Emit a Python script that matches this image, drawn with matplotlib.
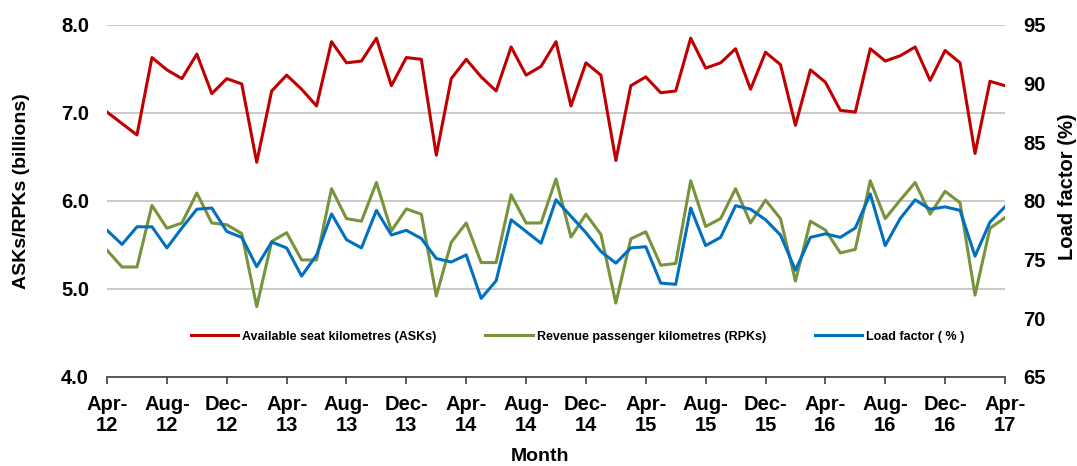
import matplotlib
matplotlib.use("Agg")
import matplotlib.pyplot as plt

plt.rcParams["font.family"] = ["Liberation Sans", "DejaVu Sans"]

# monthly Apr-12 .. Apr-17
tick_labels = ["Apr-\n12", "Aug-\n12", "Dec-\n12", "Apr-\n13", "Aug-\n13", "Dec-\n13",
               "Apr-\n14", "Aug-\n14", "Dec-\n14", "Apr-\n15", "Aug-\n15", "Dec-\n15",
               "Apr-\n16", "Aug-\n16", "Dec-\n16", "Apr-\n17"]

asks = [7.01, 6.88, 6.75, 7.63, 7.49, 7.39, 7.67, 7.22, 7.39, 7.33,
        6.44, 7.25, 7.43, 7.27, 7.08, 7.81, 7.57, 7.59, 7.85, 7.31,
        7.63, 7.61, 6.52, 7.39, 7.61, 7.41, 7.25, 7.75, 7.43, 7.53,
        7.81, 7.08, 7.57, 7.43, 6.46, 7.31, 7.41, 7.23, 7.25, 7.85,
        7.51, 7.57, 7.73, 7.27, 7.69, 7.55, 6.86, 7.49, 7.35, 7.03,
        7.01, 7.73, 7.59, 7.65, 7.75, 7.37, 7.71, 7.57, 6.54, 7.36,
        7.31]

rpks = [5.44, 5.25, 5.25, 5.95, 5.69, 5.75, 6.09, 5.75, 5.73, 5.63,
        4.80, 5.54, 5.64, 5.33, 5.33, 6.14, 5.80, 5.77, 6.21, 5.66,
        5.91, 5.85, 4.92, 5.53, 5.75, 5.30, 5.30, 6.07, 5.75, 5.75,
        6.25, 5.59, 5.85, 5.62, 4.84, 5.57, 5.65, 5.27, 5.29, 6.23,
        5.71, 5.80, 6.14, 5.75, 6.01, 5.80, 5.09, 5.77, 5.67, 5.41,
        5.45, 6.23, 5.80, 6.01, 6.21, 5.85, 6.11, 5.98, 4.93, 5.69,
        5.81]

load_factor = [77.5, 76.3, 77.8, 77.8, 76.0, 77.7, 79.3, 79.4, 77.4, 76.9,
               74.4, 76.5, 76.0, 73.6, 75.4, 78.9, 76.7, 76.0, 79.2, 77.1,
               77.5, 76.8, 75.1, 74.8, 75.4, 71.7, 73.2, 78.4, 77.4, 76.4,
               80.1, 78.7, 77.3, 75.7, 74.7, 76.0, 76.1, 73.0, 72.9, 79.4,
               76.2, 76.9, 79.6, 79.3, 78.4, 77.1, 74.1, 76.9, 77.2, 76.9,
               77.7, 80.6, 76.2, 78.5, 80.1, 79.3, 79.5, 79.2, 75.3, 78.2,
               79.5]

x = list(range(len(asks)))

fig, ax = plt.subplots(figsize=(10.77, 4.66), dpi=100)
fig.subplots_adjust(left=0.0994, right=0.9331, top=0.9464, bottom=0.191)
ax2 = ax.twinx()

l1, = ax.plot(x, asks, color="#C00000", linewidth=2.2, label="Available seat kilometres (ASKs)")
l2, = ax.plot(x, rpks, color="#77933C", linewidth=2.2, label="Revenue passenger kilometres (RPKs)")
l3, = ax2.plot(x, load_factor, color="#0070C0", linewidth=2.2, label="Load factor ( % )")

ax.set_ylim(4.0, 8.0)
ax.set_yticks([4.0, 5.0, 6.0, 7.0, 8.0])
ax.set_yticklabels(["4.0", "5.0", "6.0", "7.0", "8.0"])
ax2.set_ylim(65, 95)
ax2.set_yticks([65, 70, 75, 80, 85, 90, 95])
ax.set_xlim(0, 60)
ax.set_xticks(range(0, 61, 4))
ax.set_xticklabels(tick_labels, fontsize=14.5, fontweight="bold", linespacing=1.15)

ax.grid(axis="y", color="#C0C0C0", linewidth=1.2)
ax.set_axisbelow(True)
for a in (ax, ax2):
    for s in ("top", "left", "right"):
        a.spines[s].set_visible(False)
ax.spines["bottom"].set_color("#404040")
ax.spines["bottom"].set_linewidth(1.2)
ax2.spines["bottom"].set_visible(False)

ax.tick_params(axis="y", length=0, pad=13, labelsize=14.5)
ax2.tick_params(axis="y", length=0, pad=13, labelsize=14.5)
ax.tick_params(axis="x", length=5, width=1.2, color="#404040", pad=8)
for lab in ax.get_yticklabels() + ax2.get_yticklabels():
    lab.set_fontweight("bold")

xl = ax.set_xlabel("Month", fontsize=14, fontweight="bold")
yl = ax.set_ylabel("ASKs/RPKs (billions)", fontsize=14, fontweight="bold")
yr = ax2.set_ylabel("Load factor (%)", fontsize=14.5, fontweight="bold", rotation=90)
for lab in (xl, yl, yr):
    lab.set_va("center")
    lab.set_ha("center")
ax.xaxis.set_label_coords(0.482, -0.226)
ax.yaxis.set_label_coords(-0.095, 0.528)
ax2.yaxis.set_label_coords(1.070, 0.54)

ax2.legend(handles=[l1, l2, l3], loc="center", bbox_to_anchor=(0.524, 0.114),
           ncol=3, frameon=False, handlelength=3.8, handletextpad=0.3, columnspacing=3.9,
           prop={"weight": "bold", "size": 9})

fig.savefig("out.png", dpi=100)
